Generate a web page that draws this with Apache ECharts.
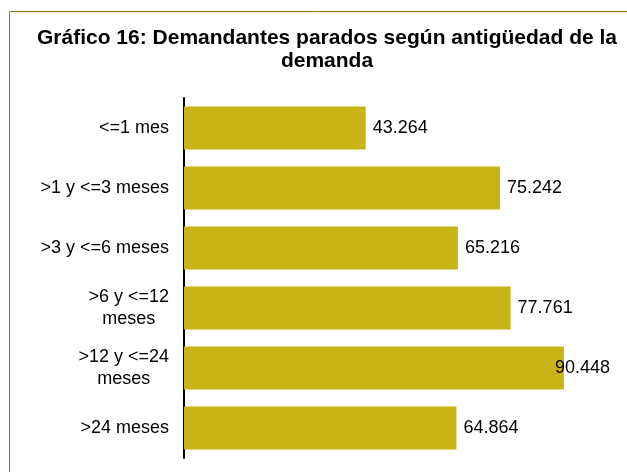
<!DOCTYPE html>
<html>
<head>
<meta charset="utf-8">
<script src="https://cdn.jsdelivr.net/npm/echarts@6/dist/echarts.min.js"></script>
<style>
html, body { margin: 0; padding: 0; background: #fff; }
#chart { width: 627px; height: 472px; }
</style>
</head>
<body>
<div id="chart"></div>
<script>
var categorias = ['<=1 mes', '>1 y <=3 meses', '>3 y <=6 meses', '>6 y <=12\nmeses', '>12 y <=24\nmeses', '>24 meses'];
var demandantes = [43264, 75242, 65216, 77761, 90448, 64864];

function miles(v) {
    return String(v).replace(/\B(?=(\d{3})+(?!\d))/g, '.');
}

window.onload = function() {
    var chart = echarts.init(document.getElementById('chart'));
    var datos = demandantes.map(function(v, i) {
        var d = { value: v };
        if (i === 4) {
            d.label = { offset: [-16, 0] };
        }
        return d;
    });
    chart.setOption({
        animation: false,
        textStyle: { fontFamily: 'Liberation Sans, Arial, sans-serif' },
        graphic: [{
            type: 'rect',
            shape: { x: 9.5, y: 11.5, width: 700, height: 600 },
            style: { fill: 'none', stroke: '#877720', lineWidth: 1 },
            silent: true
        }],
        title: {
            text: 'Gráfico 16: Demandantes parados según antigüedad de la\ndemanda',
            left: 322,
            top: 22,
            textAlign: 'center',
            textStyle: {
                fontSize: 21,
                fontWeight: 'bold',
                color: '#000',
                lineHeight: 23,
                fontFamily: 'Liberation Sans, Arial, sans-serif'
            }
        },
        grid: { left: 184, top: 98, width: 420, height: 360 },
        xAxis: {
            type: 'value',
            min: 0,
            max: 100000,
            show: false
        },
        yAxis: {
            type: 'category',
            inverse: true,
            data: categorias,
            axisLine: { lineStyle: { color: '#000', width: 2 } },
            axisTick: { show: false },
            axisLabel: {
                margin: 15,
                align: 'right',
                formatter: function(v) {
                    return v.split('\n').map(function(l) { return '{c|' + l + '}'; }).join('\n');
                },
                rich: {
                    c: {
                        fontSize: 18,
                        color: '#000',
                        lineHeight: 22,
                        align: 'center',
                        fontFamily: 'Liberation Sans, Arial, sans-serif'
                    }
                }
            }
        },
        series: [{
            type: 'bar',
            data: datos,
            barCategoryGap: '28%',
            itemStyle: { color: '#c9b418' },
            label: {
                show: true,
                position: 'right',
                distance: 7,
                fontSize: 18,
                color: '#000',
                formatter: function(p) { return miles(p.value); }
            }
        }]
    });
};
</script>
</body>
</html>
